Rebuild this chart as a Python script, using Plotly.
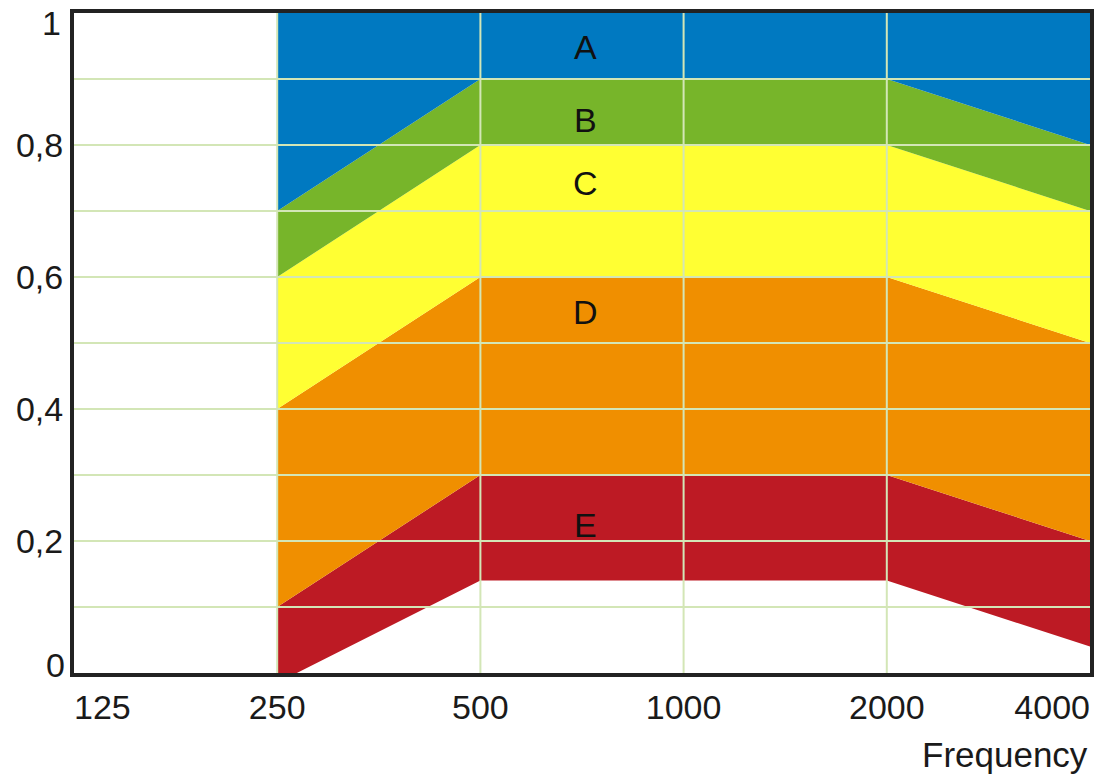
import plotly.graph_objects as go
import math

# ---- data ----
freqs = [250, 500, 1000, 2000, 4000]
e_bottom = [-0.015, 0.14, 0.14, 0.14, 0.04]
e_top = [0.1, 0.3, 0.3, 0.3, 0.2]
d_top = [0.4, 0.6, 0.6, 0.6, 0.5]
c_top = [0.6, 0.8, 0.8, 0.8, 0.7]
b_top = [0.7, 0.9, 0.9, 0.9, 0.8]
a_top = [1.0, 1.0, 1.0, 1.0, 1.0]

band_names = ["E", "D", "C", "B", "A"]
band_tops = [e_top, d_top, c_top, b_top, a_top]
band_colors = ["#bd1a24", "#f08f00", "#ffff33", "#77b52a", "#0079c1"]

x_ticks_mid = [250, 500, 1000, 2000]
x_tick_first = [125]
x_tick_last = [4000]
y_ticks_mid = [0.2, 0.4, 0.6, 0.8]
y_tick_first = [0]
y_tick_last = [1]
grid_y = [0.1, 0.2, 0.3, 0.4, 0.5, 0.6, 0.7, 0.8, 0.9]
grid_x = [250, 500, 1000, 2000]

label_x = 715
label_y = [0.224, 0.547, 0.742, 0.838, 0.948]

x_range = [math.log10(125), math.log10(4000)]
y_range = [0, 1]

FONT = "Liberation Sans, Arial, sans-serif"
FS = 34

def fmt(v):
    s = f"{v:g}"
    return s.replace(".", ",")

fig = go.Figure()
fig.add_trace(go.Scatter(x=freqs, y=e_bottom, mode="lines", line=dict(width=0),
                         hoverinfo="skip", showlegend=False))
for name, top, col in zip(band_names, band_tops, band_colors):
    fig.add_trace(go.Scatter(x=freqs, y=top, mode="lines", line=dict(width=0),
                             fill="tonexty", fillcolor=col, name=name,
                             showlegend=False))

# dummy traces to instantiate overlay axes
fig.add_trace(go.Scatter(x=[], y=[], xaxis="x2", yaxis="y2", showlegend=False))
fig.add_trace(go.Scatter(x=[], y=[], xaxis="x3", yaxis="y3", showlegend=False))

axis_line = dict(showline=True, linewidth=4, linecolor="#222222", mirror=True)
tickfont = dict(family=FONT, size=FS, color="#1a1a1a")
common = dict(showgrid=False, zeroline=False, ticks="", tickfont=tickfont, automargin=False)

fig.update_layout(
    width=1100, height=778,
    margin=dict(l=74, r=10, t=13, b=105),
    paper_bgcolor="white", plot_bgcolor="white",
    xaxis=dict(type="log", range=x_range, tickvals=x_ticks_mid,
               ticktext=[str(v) for v in x_ticks_mid],
               ticklabelstandoff=1, **common, **axis_line),
    yaxis=dict(range=y_range, tickvals=y_ticks_mid,
               ticktext=[fmt(v) for v in y_ticks_mid],
               ticklabelstandoff=0, **common, **axis_line),
    xaxis2=dict(type="log", range=x_range, overlaying="x", anchor="y2", side="bottom",
                tickvals=x_tick_first, ticktext=[str(v) for v in x_tick_first],
                ticklabelposition="outside right", ticklabelstandoff=11,
                showline=False, **common),
    yaxis2=dict(range=y_range, overlaying="y", anchor="x2", side="left",
                tickvals=y_tick_first, ticktext=[fmt(v) for v in y_tick_first],
                ticklabelshift=-8, ticklabelstandoff=8, showline=False, **common),
    xaxis3=dict(type="log", range=x_range, overlaying="x", anchor="y3", side="bottom",
                tickvals=x_tick_last, ticktext=[str(v) for v in x_tick_last],
                ticklabelposition="outside left", ticklabelstandoff=11,
                showline=False, **common),
    yaxis3=dict(range=y_range, overlaying="y", anchor="x3", side="left",
                tickvals=y_tick_last, ticktext=[fmt(v) for v in y_tick_last],
                ticklabelshift=10, ticklabelstandoff=12, showline=False, **common),
)

shapes = []
for gy in grid_y:
    shapes.append(dict(type="line", xref="paper", yref="y", x0=0, x1=1, y0=gy, y1=gy,
                       line=dict(color="#d3e6b6", width=2), layer="above"))
for gx in grid_x:
    shapes.append(dict(type="line", xref="x", yref="paper", x0=gx, x1=gx, y0=0, y1=1,
                       line=dict(color="#d3e6b6", width=2), layer="above"))
fig.update_layout(shapes=shapes)

for name, ly in zip(band_names, label_y):
    fig.add_annotation(x=math.log10(label_x), y=ly, text=name, showarrow=False,
                       font=dict(family=FONT, size=FS, color="#111111"))

fig.add_annotation(xref="paper", yref="paper", x=1, y=0, xanchor="right", yanchor="top",
                   yshift=-60, text="Frequency", showarrow=False,
                   font=dict(family=FONT, size=35, color="#1a1a1a"))

fig.write_html("out.html", config={"displayModeBar": False},
               post_script="document.body.style.margin='0';document.body.style.overflow='hidden';")
